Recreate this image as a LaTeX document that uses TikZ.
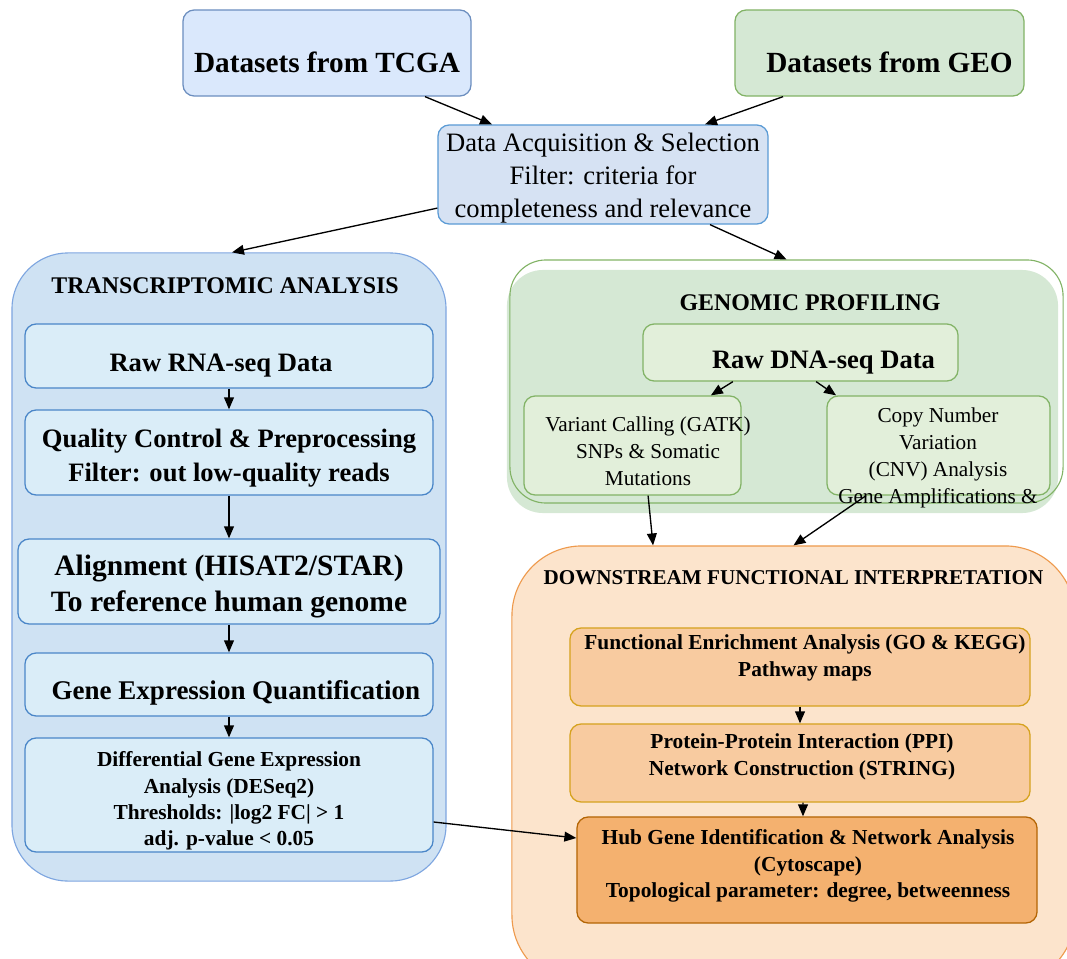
\documentclass[tikz,border=0pt]{standalone}
\usepackage{fontspec}
\setmainfont{Liberation Serif}
\usetikzlibrary{arrows.meta}

\definecolor{tcgafill}{HTML}{DAE8FC}
\definecolor{tcgaline}{HTML}{6C8EBF}
\definecolor{acqfill}{HTML}{D6E2F3}
\definecolor{acqline}{HTML}{5B9BD5}
\definecolor{transfill}{HTML}{CFE2F3}
\definecolor{transline}{HTML}{7EA6E0}
\definecolor{stepfill}{HTML}{DAEDF8}
\definecolor{stepline}{HTML}{4A86C8}
\definecolor{genfill}{HTML}{D5E8D4}
\definecolor{genline}{HTML}{82B366}
\definecolor{genbox}{HTML}{E2EFDA}
\definecolor{downfill}{HTML}{FCE4CC}
\definecolor{downline}{HTML}{EE9A4D}
\definecolor{feafill}{HTML}{F8CBA0}
\definecolor{fealine}{HTML}{D6A21E}
\definecolor{hubfill}{HTML}{F4B16F}
\definecolor{hubline}{HTML}{B46504}

\begin{document}
\begin{tikzpicture}[x=0.025cm,y=-0.025cm,
   every node/.style={align=center,inner sep=0pt},
   box/.style={draw,rounded corners=8pt,line width=0.9pt},
   groupbox/.style={draw,line width=0.8pt},
   arr/.style={-{Triangle[length=8.5pt,width=7pt]},line width=0.95pt},
   srctxt/.style={font=\bfseries\fontsize{20.8}{25}\selectfont},
   titletxt/.style={font=\bfseries\fontsize{17}{20}\selectfont},
   bigtxt/.style={font=\bfseries\fontsize{18.9}{24}\selectfont},
   smalltxt/.style={font=\bfseries\fontsize{15.2}{18.8}\selectfont},
   regtxt/.style={font=\fontsize{15.1}{19.2}\selectfont}]
  \useasboundingbox (0,0) rectangle (1067,959);
  \clip (0,0) rectangle (1067,959);

  % sources and selection
  \node[box,fill=tcgafill,draw=tcgaline,minimum width=7.2cm,minimum height=2.15cm] (tcga) at (327,53) {};
  \node[srctxt] (tcgatxt) at (327,62) {Datasets from TCGA};
  \node[box,fill=genfill,draw=genline,minimum width=7.225cm,minimum height=2.15cm] (geo) at (879.5,53) {};
  \node[srctxt] (geotxt) at (889.5,62) {Datasets from GEO};
  \node[box,fill=acqfill,draw=acqline,minimum width=8.25cm,minimum height=2.475cm] (acq) at (603,174.5) {};
  \node[font=\fontsize{18.9}{23.5}\selectfont] (acqtxt) at (603,178)
        {Data Acquisition \& Selection\\Filter: criteria for\\completeness and relevance};

  % transcriptomic branch
  \node[groupbox,fill=transfill,draw=transline,rounded corners=1.4cm,minimum width=10.85cm,minimum height=15.7cm] (trans) at (229,567) {};
  \node[titletxt] (transtitle) at (225,286) {TRANSCRIPTOMIC ANALYSIS};
  \node[box,fill=stepfill,draw=stepline,minimum width=10.2cm,minimum height=1.6cm] (rna) at (229,356) {};
  \node[bigtxt] (rnatxt) at (221,366) {Raw RNA-seq Data};
  \node[box,fill=stepfill,draw=stepline,minimum width=10.2cm,minimum height=2.125cm] (qc) at (229,452.5) {};
  \node[bigtxt] (qctxt) at (229,458) {Quality Control \& Preprocessing\\Filter: out low-quality reads};
  \node[box,fill=stepfill,draw=stepline,minimum width=10.55cm,minimum height=2.125cm] (aln) at (229,581.5) {};
  \node[font=\bfseries\fontsize{21}{25.6}\selectfont] (alntxt) at (229,587)
        {Alignment (HISAT2/STAR)\\To reference human genome};
  \node[box,fill=stepfill,draw=stepline,minimum width=10.2cm,minimum height=1.575cm] (quant) at (229,684.5) {};
  \node[font=\bfseries\fontsize{19.2}{24}\selectfont] (quanttxt) at (236,693) {Gene Expression Quantification};
  \node[box,fill=stepfill,draw=stepline,minimum width=10.2cm,minimum height=2.85cm] (dge) at (229,795) {};
  \node[smalltxt] (dgetxt) at (229,801)
        {Differential Gene Expression\\Analysis (DESeq2)\\Thresholds: |log2 FC| > 1\\adj. p-value < 0.05};

  % genomic branch
  \node[fill=genfill,rounded corners=0.9cm,minimum width=13.775cm,minimum height=6.075cm] (genbg) at (782.5,391.5) {};
  \node[groupbox,draw=genline,rounded corners=0.9cm,minimum width=13.825cm,minimum height=6.075cm] (gen) at (786.5,381.5) {};
  \node[titletxt] (gentitle) at (810,303) {GENOMIC PROFILING};
  \node[box,fill=genbox,draw=genline,minimum width=7.875cm,minimum height=1.425cm] (dna) at (800.5,352.5) {};
  \node[bigtxt] (dnatxt) at (823.5,363) {Raw DNA-seq Data};
  \node[box,fill=genbox,draw=genline,minimum width=5.425cm,minimum height=2.475cm] (var) at (632.5,445.5) {};
  \node[regtxt] (vartxt) at (648,451) {Variant Calling (GATK)\\SNPs \& Somatic\\Mutations};
  \node[box,fill=genbox,draw=genline,minimum width=5.575cm,minimum height=2.475cm] (cnv) at (938.5,445.5) {};
  \node[regtxt] (cnvtxt) at (938,458) {Copy Number\\Variation\\(CNV) Analysis\\Gene Amplifications \&};

  % downstream interpretation
  \node[groupbox,fill=downfill,draw=downline,rounded corners=1.75cm,minimum width=14.075cm,minimum height=10.975cm] (down) at (793.5,765.5) {};
  \node[font=\bfseries\fontsize{15}{18}\selectfont] (downtitle) at (793.5,578) {DOWNSTREAM FUNCTIONAL INTERPRETATION};
  \node[box,fill=feafill,draw=fealine,minimum width=11.5cm,minimum height=1.95cm] (fea) at (800,667) {};
  \node[smalltxt] (featxt) at (805,658) {Functional Enrichment Analysis (GO \& KEGG)\\Pathway maps};
  \node[box,fill=feafill,draw=fealine,minimum width=11.5cm,minimum height=1.95cm] (ppi) at (800,763) {};
  \node[smalltxt] (ppitxt) at (802,757) {Protein-Protein Interaction (PPI)\\Network Construction (STRING)};
  \node[box,fill=hubfill,draw=hubline,minimum width=11.5cm,minimum height=2.65cm] (hub) at (807,870) {};
  \node[smalltxt] (hubtxt) at (808,866) {Hub Gene Identification \& Network Analysis\\(Cytoscape)\\Topological parameter: degree, betweenness};

  % connectors
  \draw[arr] ([xshift=2.45cm]tcga.south) -- ([xshift=-2.775cm]acq.north);
  \draw[arr] ([xshift=-2.41cm]geo.south) -- ([xshift=2.55cm]acq.north);
  \draw[arr] ([yshift=-0.84cm]acq.west) -- ([xshift=0.075cm]trans.north);
  \draw[arr] ([xshift=2.675cm]acq.south) -- (gen.north);
  \draw[arr] (rna) -- (qc);
  \draw[arr] (qc) -- (aln);
  \draw[arr] (aln) -- (quant);
  \draw[arr] (quant) -- (dge);
  \draw[arr] ([yshift=-0.675cm]dge.east) -- ([yshift=0.8cm]hub.west);
  \draw[arr] ([xshift=-1.69cm]dna.south) -- ([xshift=1.96cm]var.north);
  \draw[arr] ([xshift=0.39cm]dna.south) -- ([xshift=-2.56cm]cnv.north);
  \draw[arr] ([xshift=0.39cm]var.south) -- ([xshift=-3.51cm]down.north);
  \draw[arr] ([xshift=-1.81cm]cnv.south) -- (down.north);
  \draw[arr] (fea) -- (ppi);
  \draw[arr] ([xshift=0.075cm]ppi.south) -- ([xshift=-0.1cm]hub.north);
\end{tikzpicture}
\end{document}
